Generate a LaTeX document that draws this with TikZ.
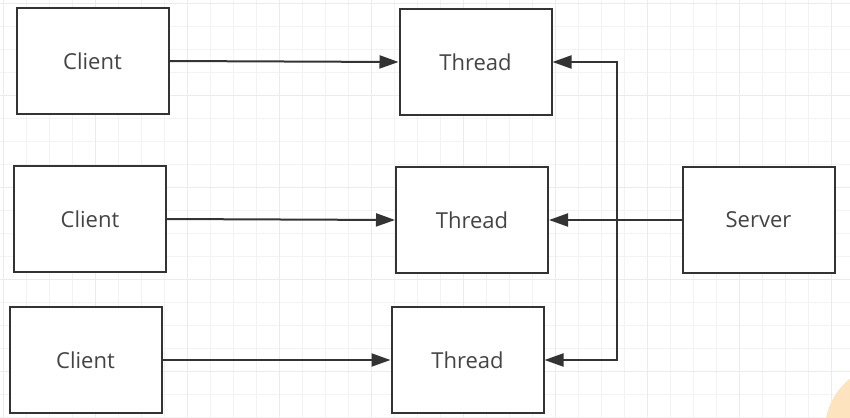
\documentclass[tikz,border=0pt]{standalone}
\usepackage{fontspec}
\setmainfont{Open Sans}
\usetikzlibrary{arrows.meta}

\definecolor{linegray}{HTML}{333333}
\definecolor{textgray}{HTML}{444444}
\definecolor{gridminor}{HTML}{F3F3F3}
\definecolor{gridmajor}{HTML}{EBEBEB}
\definecolor{blob}{HTML}{FDE4BF}

\begin{document}
\begin{tikzpicture}[x=0.5pt, y=-0.5pt,
    box/.style={shape=rectangle, draw=linegray, line width=1pt, fill=white,
        minimum width=76pt, minimum height=53pt, inner sep=0pt,
        text=textgray, font=\fontsize{11}{13}\selectfont},
    link/.style={draw=linegray, line width=1pt,
        -{Triangle[length=9.5pt, width=6.5pt]}}]
        \useasboundingbox (0, 0) rectangle (850, 417);
        \clip (0, 0) rectangle (850, 417);
        \fill[white] (0, 0) rectangle (850, 417);

        % background grid
        \foreach \i in {0, ..., 37} {
            \draw[gridminor, line width=0.4pt] ({3.7 + 23*\i}, 0) -- ({3.7 + 23*\i}, 417);
        }
        \foreach \i in {0, ..., 18} {
            \draw[gridminor, line width=0.4pt] (0, {3.7 + 23*\i}) -- (850, {3.7 + 23*\i});
        }
        \foreach \i in {0, 4, ..., 36} {
            \draw[gridmajor, line width=0.5pt] ({3.7 + 23*\i}, 0) -- ({3.7 + 23*\i}, 417);
        }
        \foreach \i in {0, 4, ..., 16} {
            \draw[gridmajor, line width=0.5pt] (0, {3.7 + 23*\i}) -- (850, {3.7 + 23*\i});
        }

        \fill[blob] (890, 430) circle (65);

        \node[box] (C1) at (92.5, 61) {Client};
        \node[box] (C2) at (90, 219) {Client};
        \node[box] (C3) at (85.5, 360) {Client};

        \node[box] (T1) at (475.5, 62) {Thread};
        \node[box] (T2) at (472, 220) {Thread};
        \node[box] (T3) at (467.5, 360) {Thread};

        \node[box] (S) at (758.5, 220) {Server};

        \coordinate (J) at (617, 220);

        \draw[link] (C1.east) -- (T1.west);
        \draw[link] (C2.east) -- (T2.west);
        \draw[link] (C3.east) -- (T3.west);

        \draw[link] (S.west) -- (T2.east);
        \draw[link] (J) |- (T1.east);
        \draw[link] (J) |- (T3.east);
    \end{tikzpicture}
\end{document}
